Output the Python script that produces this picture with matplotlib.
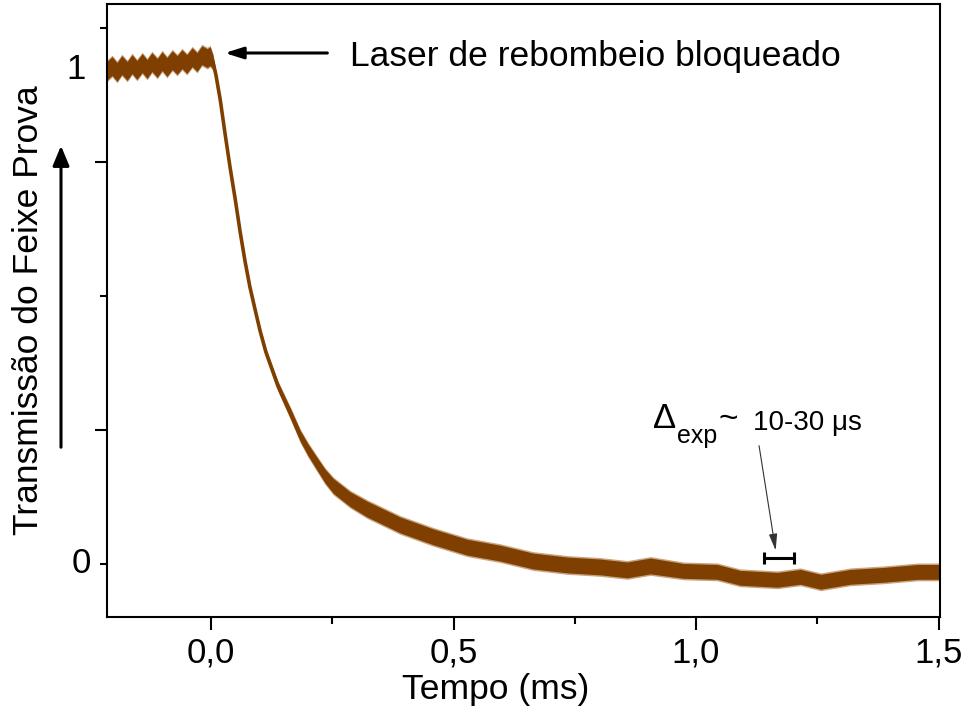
import numpy as np
import matplotlib
matplotlib.use('Agg')
import matplotlib.pyplot as plt

# Probe beam transmission after the repump laser is blocked
# values (time in ms, normalised transmission)

# plateau before blocking (with the small ripple)
t_plato = [-0.215, -0.204, -0.194, -0.184, -0.173, -0.163, -0.153, -0.142, -0.132, -0.122, -0.111,
           -0.101, -0.091, -0.080, -0.070, -0.060, -0.050, -0.039, -0.029, -0.019, -0.008, -0.002]
y_plato = [0.998, 1.008, 0.996, 1.010, 0.998, 1.012, 1.000, 1.014, 1.002, 1.016, 1.004,
           1.018, 1.006, 1.020, 1.010, 1.022, 1.012, 1.026, 1.016, 1.030, 1.024, 1.028]
r_plato = [0.019] * 22

# fast decay
t_queda = [0.004, 0.010, 0.019, 0.029, 0.039, 0.050, 0.060, 0.070, 0.080, 0.091, 0.101, 0.113,
           0.126, 0.138, 0.151, 0.165, 0.184, 0.200, 0.219, 0.235, 0.252, 0.287, 0.322]
y_queda = [1.016, 0.990, 0.939, 0.870, 0.804, 0.737, 0.672, 0.613, 0.561, 0.514, 0.472, 0.429,
           0.393, 0.360, 0.332, 0.302, 0.259, 0.231, 0.202, 0.178, 0.158, 0.131, 0.111]
r_queda = [0.014, 0.006, 0.004, 0.004, 0.004, 0.004, 0.004, 0.004, 0.005, 0.005, 0.006, 0.006,
           0.007, 0.008, 0.009, 0.010, 0.011, 0.012, 0.013, 0.014, 0.015, 0.015, 0.016]

# slow tail
t_cauda = [0.390, 0.458, 0.528, 0.596, 0.664, 0.735, 0.803, 0.858, 0.906, 0.974, 1.044, 1.091,
           1.168, 1.215, 1.257, 1.318, 1.386, 1.457, 1.505]
y_cauda = [0.079, 0.055, 0.034, 0.022, 0.006, -0.002, -0.006, -0.012, -0.004, -0.014, -0.016, -0.028,
           -0.032, -0.026, -0.036, -0.026, -0.022, -0.016, -0.016]
r_cauda = [0.016, 0.016, 0.016, 0.016, 0.016, 0.016, 0.016, 0.016, 0.016, 0.015, 0.015, 0.015,
           0.015, 0.015, 0.015, 0.015, 0.015, 0.015, 0.015]

x_ticks = [0.0, 0.5, 1.0, 1.5]
x_tick_labels = ['0,0', '0,5', '1,0', '1,5']
x_minor = [0.25, 0.75, 1.25]
y_step = 0.2713
y_major = [y_step, 3 * y_step]
y_minor = [0.0, 2 * y_step, 4 * y_step]

t = np.array(t_plato + t_queda + t_cauda)
y = np.array(y_plato + y_queda + y_cauda)
dy = np.array(r_plato + r_queda + r_cauda)

cor = '#7f3f00'

plt.rcParams['font.family'] = ['Liberation Sans', 'DejaVu Sans']
fig = plt.figure(figsize=(9.66, 7.14), dpi=100)
ax = fig.add_axes([107 / 966, 97 / 714, 833 / 966, 613 / 714])

ax.fill_between(t, y - dy - 0.003, y + dy + 0.003, color='#c9a27e', lw=0)
ax.fill_between(t, y - dy, y + dy, color=cor, lw=0)
ax.plot(t, y, color=cor, lw=2.6)

ax.set_xlim(-0.2146, 1.503)
ax.set_ylim(-0.1073, 1.1336)

ax.set_xticks(x_ticks)
ax.set_xticklabels(x_tick_labels)
ax.set_xticks(x_minor, minor=True)
ax.set_yticks(y_major)
ax.set_yticklabels(['', ''])
ax.set_yticks(y_minor, minor=True)
ax.tick_params(which='both', direction='out', width=1.5, labelsize=25, pad=5)
ax.tick_params(which='major', length=9)
ax.tick_params(which='minor', length=5)
for sp in ax.spines.values():
    sp.set_linewidth(1.5)

# custom y labels, the original puts "1" on the plateau
ax.text(-0.019, 0.0, '0', transform=ax.get_yaxis_transform(), ha='right', va='center', fontsize=25)
ax.text(-0.025, 1.0, '1', transform=ax.get_yaxis_transform(), ha='right', va='center', fontsize=25)

fig.text(29 / 966, 1 - 310 / 714, 'Transmissão do Feixe Prova', rotation=90, ha='center', va='center', fontsize=25.5)
fig.text(496 / 966, 1 - 690 / 714, 'Tempo (ms)', ha='center', va='center', fontsize=25.5)

# arrow on the y label
fig.patches.append(matplotlib.patches.FancyArrowPatch((61, 714 - 450), (61, 714 - 143), transform=None,
                   arrowstyle='-|>,head_length=12,head_width=5', color='black', lw=2.2))

# laser blocked annotation
ax.annotate('', xy=(0.0227, 1.0344), xytext=(0.2455, 1.0344),
            arrowprops=dict(arrowstyle='-|>,head_length=1.1,head_width=0.35', color='black', lw=2.2))
ax.text(0.287, 1.008, 'Laser de rebombeio bloqueado', fontsize=25.5, ha='left', va='baseline')

# Delta_exp annotation
ax.text(0.912, 0.275, 'Δ', fontsize=25, ha='left', va='baseline')
ax.text(0.961, 0.245, 'exp', fontsize=18, ha='left', va='baseline')
ax.text(1.046, 0.276, '~', fontsize=24, ha='left', va='baseline')
ax.text(1.118, 0.271, '10-30 μs', fontsize=20, ha='left', va='baseline')
ax.annotate('', xy=(1.165, 0.022), xytext=(1.129, 0.245),
            arrowprops=dict(arrowstyle='-|>,head_length=1.0,head_width=0.25', color='#333333', lw=0.8))
ax.errorbar([1.171], [0.012], xerr=[0.030], fmt='none', ecolor='black', elinewidth=2.2, capsize=4, capthick=2.2)

fig.savefig('out.png', dpi=100)
